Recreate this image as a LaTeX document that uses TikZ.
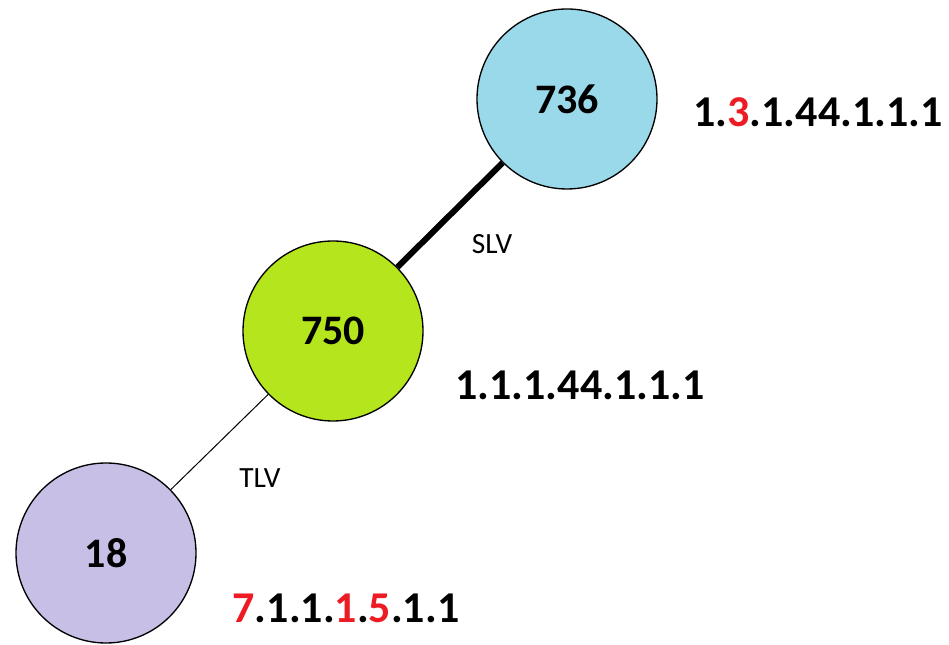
\documentclass[tikz,border=0pt]{standalone}
\usepackage{fontspec}
\setmainfont{Carlito}
\usetikzlibrary{positioning}
\definecolor{paintblue}{RGB}{153,217,234}
\definecolor{paintlime}{RGB}{181,230,29}
\definecolor{paintlav}{RGB}{200,191,231}
\definecolor{paintred}{RGB}{237,28,36}

\begin{document}
\begin{tikzpicture}[on grid,
  main node/.style={circle,draw,line width=1pt,minimum size=135pt,inner sep=0pt,
    font=\bfseries\fontsize{31.5}{36}\selectfont},
  code/.style={font=\bfseries\fontsize{33}{38}\selectfont},
  link/.style={font=\fontsize{22}{26}\selectfont}]

  \useasboundingbox (-79.5pt,-69pt) rectangle (632.25pt,414.75pt);
  \node[main node,fill=paintlav] (18) {18};
  \node[main node,fill=paintlime] (750) [above right=166.5pt and 170.25pt of 18] {750};
  \node[main node,fill=paintblue] (736) [above right=174pt and 175.5pt of 750] {736};
  \path
    (18) edge[line width=0.75pt] (750)
    (750) edge[line width=4.5pt] (736);

  \node[code] (c736) [below right=9.75pt and 188.25pt of 736] {1.\textcolor{paintred}{3}.1.44.1.1.1};
  \node[code] (c750) [below right=40.5pt and 185.25pt of 750] {1.1.1.44.1.1.1};
  \node[code] (c18) [below right=41.25pt and 180pt of 18]
    {\textcolor{paintred}{7}.1.1.\textcolor{paintred}{1}.\textcolor{paintred}{5}.1.1};

  \node[link] (slv) [above right=65.25pt and 119.25pt of 750] {SLV};
  \node[link] (tlv) [above right=56.25pt and 115.5pt of 18] {TLV};
\end{tikzpicture}
\end{document}
